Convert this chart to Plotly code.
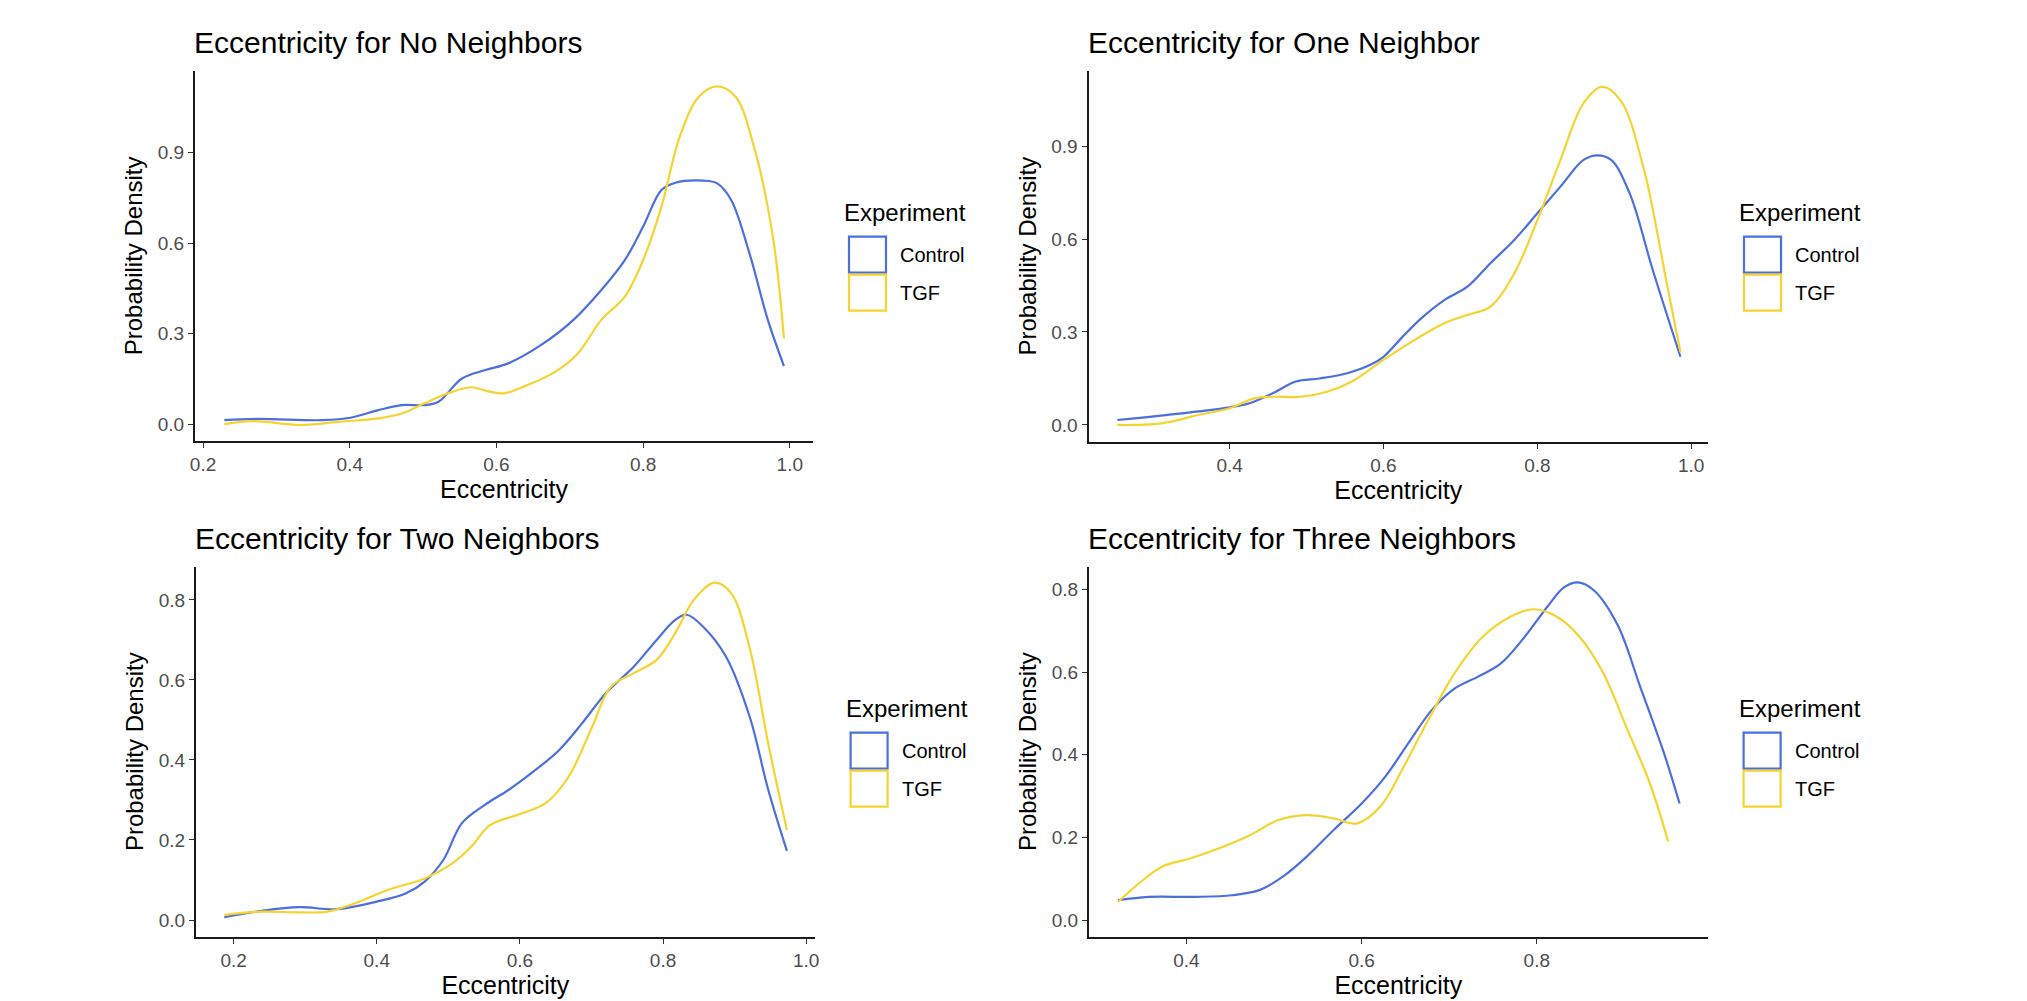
import plotly.graph_objects as go

# ---------------- data ----------------
groups = ["Control", "TGF"]
legend_title = "Experiment"
panel_titles = ["Eccentricity for No Neighbors", "Eccentricity for One Neighbor",
                "Eccentricity for Two Neighbors", "Eccentricity for Three Neighbors"]
x_label = "Eccentricity"
y_label = "Probability Density"

# Panel 1: No neighbors
p1_ctrl_x = [0.229, 0.275, 0.363, 0.401, 0.439, 0.471, 0.502, 0.521, 0.553, 0.585, 0.616, 0.661,
             0.705, 0.743, 0.775, 0.800, 0.825, 0.844, 0.882, 0.901, 0.920, 0.945, 0.970, 0.992]
p1_ctrl_y = [0.014, 0.018, 0.014, 0.022, 0.047, 0.064, 0.064, 0.075, 0.152, 0.180, 0.202, 0.263,
             0.346, 0.445, 0.544, 0.655, 0.776, 0.800, 0.807, 0.798, 0.743, 0.566, 0.346, 0.193]
p1_tgf_x = [0.229, 0.268, 0.332, 0.388, 0.439, 0.471, 0.502, 0.534, 0.566, 0.585, 0.610, 0.642,
            0.680, 0.711, 0.743, 0.775, 0.800, 0.825, 0.850, 0.876, 0.901, 0.926, 0.951, 0.977, 0.992]
p1_tgf_y = [0.001, 0.011, -0.002, 0.009, 0.020, 0.036, 0.070, 0.103, 0.123, 0.112, 0.103, 0.130,
            0.174, 0.235, 0.346, 0.423, 0.544, 0.721, 0.953, 1.085, 1.119, 1.085, 0.920, 0.620, 0.285]

# Panel 2: One neighbor
p2_ctrl_x = [0.254, 0.317, 0.400, 0.426, 0.456, 0.486, 0.517, 0.553, 0.583, 0.600, 0.625, 0.649,
             0.679, 0.709, 0.739, 0.770, 0.800, 0.830, 0.860, 0.878, 0.896, 0.920, 0.950, 0.986]
p2_ctrl_y = [0.016, 0.032, 0.057, 0.070, 0.102, 0.140, 0.150, 0.167, 0.194, 0.220, 0.285, 0.344,
             0.403, 0.446, 0.522, 0.597, 0.683, 0.769, 0.855, 0.870, 0.855, 0.747, 0.500, 0.220]
p2_tgf_x = [0.254, 0.311, 0.359, 0.400, 0.432, 0.456, 0.492, 0.528, 0.559, 0.600, 0.637, 0.679,
            0.709, 0.739, 0.770, 0.800, 0.830, 0.860, 0.884, 0.908, 0.938, 0.968, 0.986]
p2_tgf_y = [0.000, 0.005, 0.032, 0.054, 0.086, 0.091, 0.091, 0.108, 0.140, 0.210, 0.269, 0.328,
            0.355, 0.382, 0.489, 0.661, 0.855, 1.038, 1.091, 1.048, 0.830, 0.460, 0.235]

# Panel 3: Two neighbors
p3_ctrl_x = [0.187, 0.240, 0.292, 0.344, 0.400, 0.441, 0.467, 0.493, 0.519, 0.551, 0.584, 0.616,
             0.655, 0.687, 0.720, 0.759, 0.791, 0.817, 0.833, 0.856, 0.888, 0.921, 0.947, 0.973]
p3_ctrl_y = [0.007, 0.023, 0.032, 0.027, 0.046, 0.067, 0.096, 0.150, 0.242, 0.288, 0.325, 0.367,
             0.425, 0.492, 0.567, 0.633, 0.700, 0.750, 0.763, 0.733, 0.658, 0.508, 0.325, 0.173]
p3_tgf_x = [0.187, 0.240, 0.292, 0.331, 0.370, 0.415, 0.467, 0.506, 0.532, 0.558, 0.597, 0.636,
            0.668, 0.701, 0.727, 0.759, 0.791, 0.817, 0.843, 0.872, 0.895, 0.921, 0.947, 0.973]
p3_tgf_y = [0.013, 0.021, 0.019, 0.021, 0.042, 0.075, 0.104, 0.142, 0.183, 0.237, 0.263, 0.292,
            0.358, 0.483, 0.583, 0.617, 0.650, 0.717, 0.800, 0.843, 0.817, 0.680, 0.440, 0.225]

# Panel 4: Three neighbors
p4_ctrl_x = [0.322, 0.357, 0.410, 0.452, 0.484, 0.510, 0.537, 0.568, 0.600, 0.627, 0.653, 0.680,
             0.706, 0.733, 0.759, 0.786, 0.812, 0.831, 0.847, 0.865, 0.892, 0.918, 0.945, 0.963]
p4_ctrl_y = [0.048, 0.056, 0.056, 0.060, 0.073, 0.105, 0.153, 0.218, 0.282, 0.347, 0.427, 0.508,
             0.560, 0.589, 0.621, 0.685, 0.758, 0.805, 0.817, 0.798, 0.715, 0.565, 0.405, 0.282]
p4_tgf_x = [0.322, 0.346, 0.372, 0.404, 0.441, 0.473, 0.505, 0.537, 0.568, 0.595, 0.621, 0.648,
            0.674, 0.706, 0.738, 0.770, 0.796, 0.823, 0.849, 0.876, 0.902, 0.929, 0.950]
p4_tgf_y = [0.044, 0.089, 0.129, 0.149, 0.177, 0.206, 0.242, 0.254, 0.246, 0.234, 0.274, 0.371,
            0.476, 0.597, 0.685, 0.734, 0.752, 0.734, 0.685, 0.597, 0.468, 0.331, 0.190]

p1_yticks = [0.0, 0.3, 0.6, 0.9]
p2_yticks = [0.0, 0.3, 0.6, 0.9]
p3_yticks = [0.0, 0.2, 0.4, 0.6, 0.8]
p4_yticks = [0.0, 0.2, 0.4, 0.6, 0.8]
p1_xticks = [0.2, 0.4, 0.6, 0.8, 1.0]
p2_xticks = [0.4, 0.6, 0.8, 1.0]
p3_xticks = [0.2, 0.4, 0.6, 0.8, 1.0]
p4_xticks = [0.4, 0.6, 0.8]

# ---------------- styling / layout ----------------
OFF = 8                      # default page margin of the html body
W, H = 2027 - OFF, 1001 - OFF
COLORS = {"Control": "#4B6FDE", "TGF": "#F5D430"}
FONT = "Liberation Sans, Arial, Helvetica, sans-serif"


def fx(px):
    return (px - OFF) / W


def fy(py):
    return 1 - (py - OFF) / H


panels = [
    dict(cx=p1_ctrl_x, cy=p1_ctrl_y, tx=p1_tgf_x, ty=p1_tgf_y, xt=p1_xticks, yt=p1_yticks,
         px=(195, 813), py=(70.7, 441), xr=[0.189, 1.0316], yr=[-0.055, 1.171]),
    dict(cx=p2_ctrl_x, cy=p2_ctrl_y, tx=p2_tgf_x, ty=p2_tgf_y, xt=p2_xticks, yt=p2_yticks,
         px=(1088.5, 1708), py=(70.7, 441.7), xr=[0.2166, 1.0218], yr=[-0.054, 1.143]),
    dict(cx=p3_ctrl_x, cy=p3_ctrl_y, tx=p3_tgf_x, ty=p3_tgf_y, xt=p3_xticks, yt=p3_yticks,
         px=(196, 814.6), py=(566.7, 936.7), xr=[0.1475, 1.0117], yr=[-0.0417, 0.883]),
    dict(cx=p4_ctrl_x, cy=p4_ctrl_y, tx=p4_tgf_x, ty=p4_tgf_y, xt=p4_xticks, yt=p4_yticks,
         px=(1089, 1707.6), py=(566.7, 936.7), xr=[0.2887, 0.995], yr=[-0.0403, 0.855]),
]

fig = go.Figure()
layout_axes = {}
annotations = []
shapes = []

for i, p in enumerate(panels):
    n = "" if i == 0 else str(i + 1)
    xa, ya = "x" + n, "y" + n
    for name, xs, ys in (("Control", p["cx"], p["cy"]), ("TGF", p["tx"], p["ty"])):
        fig.add_trace(go.Scatter(
            x=xs, y=ys, mode="lines", name=name, legendgroup=name,
            line=dict(color=COLORS[name], width=2.2, shape="spline", smoothing=1.0),
            xaxis=xa, yaxis=ya, showlegend=False))
    common = dict(showgrid=False, zeroline=False, showline=True, linecolor="#1a1a1a",
                  linewidth=2, ticks="outside", ticklen=5, tickwidth=1.3, tickcolor="#333333",
                  automargin=False,
                  tickfont=dict(family=FONT, size=19, color="#4D4D4D"))
    layout_axes["xaxis" + n] = dict(
        common, domain=[fx(p["px"][0]), fx(p["px"][1])], range=p["xr"], anchor=ya,
        tickvals=p["xt"], ticktext=[f"{v:.1f}" for v in p["xt"]],
        title=dict(text=x_label, font=dict(family=FONT, size=25, color="#000000"), standoff=5))
    layout_axes["yaxis" + n] = dict(
        common, domain=[fy(p["py"][1]), fy(p["py"][0])], range=p["yr"], anchor=xa,
        tickvals=p["yt"], ticktext=[f"{v:.1f}" for v in p["yt"]],
        title=dict(text=y_label, font=dict(family=FONT, size=24, color="#000000"), standoff=8))

    # panel title
    annotations.append(dict(
        text=panel_titles[i], x=fx(p["px"][0] - 3), y=fy(p["py"][0] - 28),
        xref="paper", yref="paper", xanchor="left", yanchor="middle", showarrow=False,
        font=dict(family=FONT, size=30, color="#000000")))

    # manual legend (ggplot-style outlined keys)
    lx = p["px"][1] + 35
    ty = p["py"][0] + 142
    annotations.append(dict(
        text=legend_title, x=fx(lx - 6), y=fy(ty), xref="paper", yref="paper",
        xanchor="left", yanchor="middle", showarrow=False,
        font=dict(family=FONT, size=24, color="#000000")))
    for k, name in enumerate(groups):
        top = ty + 24 + k * 38
        shapes.append(dict(type="rect", xref="paper", yref="paper",
                           x0=fx(lx + 1), x1=fx(lx + 38),
                           y0=fy(top), y1=fy(top + 36),
                           line=dict(color=COLORS[name], width=2.2), fillcolor="rgba(0,0,0,0)"))
        annotations.append(dict(
            text=name, x=fx(lx + 50), y=fy(top + 18), xref="paper", yref="paper",
            xanchor="left", yanchor="middle", showarrow=False,
            font=dict(family=FONT, size=20, color="#000000")))

fig.update_layout(
    width=W, height=H, margin=dict(l=0, r=0, t=0, b=0, autoexpand=False),
    paper_bgcolor="white", plot_bgcolor="white", showlegend=False,
    annotations=annotations, shapes=shapes, **layout_axes)

fig.write_html("out.html")
